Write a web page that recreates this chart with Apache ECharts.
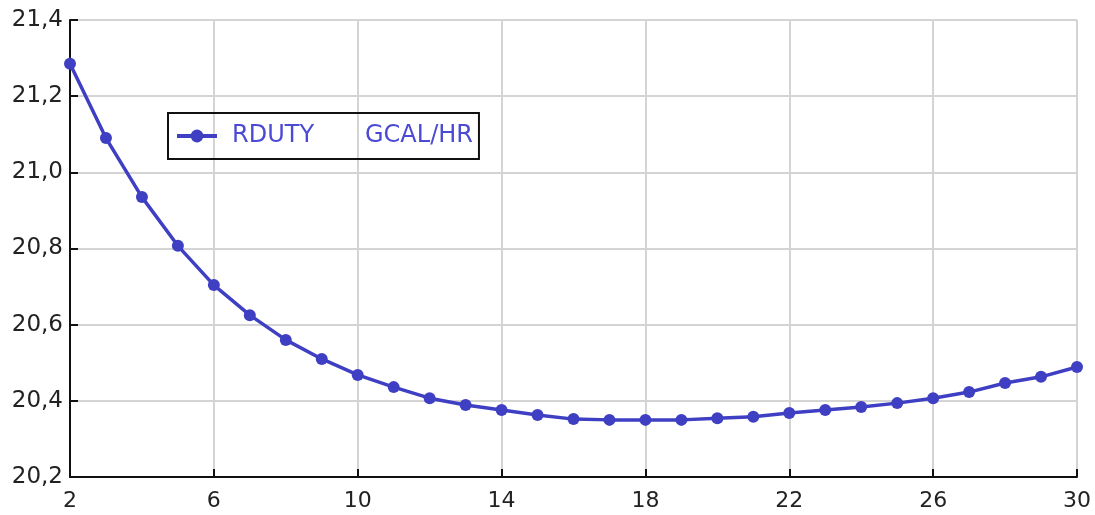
<!DOCTYPE html>
<html><head><meta charset="utf-8">
<script src="https://cdn.jsdelivr.net/npm/echarts@6/dist/echarts.min.js"></script>
<style>html,body{margin:0;padding:0;background:#fff}#c{width:1095px;height:515px}</style>
</head><body><div id="c"></div>
<script>
const xValues = [2,3,4,5,6,7,8,9,10,11,12,13,14,15,16,17,18,19,20,21,22,23,24,25,26,27,28,29,30];
const rduty = [21.285,21.09,20.935,20.807,20.704,20.625,20.56,20.51,20.468,20.436,20.407,20.389,20.376,20.363,20.352,20.350,20.350,20.350,20.354,20.358,20.368,20.376,20.384,20.394,20.407,20.423,20.447,20.463,20.489];
const seriesName = 'RDUTY';
const unitLabel = 'GCAL/HR';

const chart = echarts.init(document.getElementById('c'));
const font = 'DejaVu Sans';
chart.setOption({
  animation: false,
  backgroundColor: '#fff',
  grid: {left: 70, right: 18, top: 20, bottom: 38, containLabel: false},
  legend: {
    left: 168, top: 113, orient: 'horizontal',
    borderColor: '#111', borderWidth: 2, padding: [11, 6, 11, 7],
    itemWidth: 40, itemHeight: 16, itemGap: 0,
    lineStyle: {width: 4, color: '#3f3fc4'},
    formatter: n => '{a|' + n + '}{b|' + unitLabel + '}',
    textStyle: {
      fontFamily: font, fontSize: 24, color: '#4a4ad4',
      rich: {
        a: {fontFamily: font, fontSize: 24, color: '#4a4ad4', width: 133, padding: [0, 0, 0, 10]},
        b: {fontFamily: font, fontSize: 24, color: '#4a4ad4', padding: [0, 14, 0, 0]}
      }
    },
    data: [seriesName]
  },
  xAxis: {
    type: 'value', min: 2, max: 30, interval: 4,
    axisLine: {show: true, lineStyle: {color: '#111', width: 2}},
    axisTick: {show: true, inside: true, length: 8, lineStyle: {color: '#111', width: 2}},
    axisLabel: {fontFamily: font, fontSize: 22, color: '#222', margin: 13},
    splitLine: {show: true, lineStyle: {color: '#d4d4d4', width: 2}}
  },
  yAxis: {
    type: 'value', min: 20.2, max: 21.4, interval: 0.2,
    axisLine: {show: true, lineStyle: {color: '#111', width: 2}},
    axisTick: {show: true, inside: true, length: 8, lineStyle: {color: '#111', width: 2}},
    axisLabel: {fontFamily: font, fontSize: 23, color: '#222', margin: 7,
      formatter: v => v.toFixed(1).replace('.', ',')},
    splitLine: {show: true, lineStyle: {color: '#d4d4d4', width: 2}}
  },
  series: [{
    name: seriesName, type: 'line',
    data: xValues.map((x, i) => [x, rduty[i]]),
    symbol: 'circle', symbolSize: 12,
    itemStyle: {color: '#3f3fc4'},
    lineStyle: {color: '#3f3fc4', width: 3.5}
  }]
});
</script></body></html>
